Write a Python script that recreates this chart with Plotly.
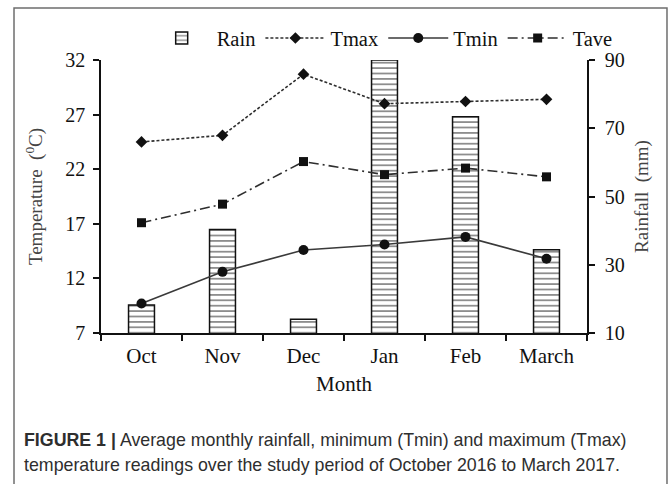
import plotly.graph_objects as go

# Monthly climate readings, October 2016 - March 2017
months = ["Oct", "Nov", "Dec", "Jan", "Feb", "March"]
rain_mm = [18.2, 40.3, 14.0, 90.0, 73.4, 34.4]
tmax_c = [24.5, 25.1, 30.7, 28.0, 28.2, 28.4]
tmin_c = [9.7, 12.6, 14.6, 15.1, 15.8, 13.8]
tave_c = [17.1, 18.8, 22.7, 21.5, 22.1, 21.3]

temp_ticks = [7, 12, 17, 22, 27, 32]
rain_ticks = [10, 30, 50, 70, 90]

SERIF = "Liberation Serif, Times New Roman, serif"
SANS = "Liberation Sans, Arial, sans-serif"
INK = "#111111"
LINE = "#2e2e2e"

fig = go.Figure()

# Rainfall bars on the base axis so the temperature lines sit on top
fig.add_trace(go.Bar(
    x=months, y=rain_mm, name="Rain", yaxis="y",
    marker=dict(color="white",
                line=dict(color=INK, width=1.5),
                pattern=dict(shape="-", fgcolor=INK, bgcolor="white",
                             size=5.4, solidity=0.32)),
))

fig.add_trace(go.Scatter(
    x=months, y=tmax_c, name="Tmax", yaxis="y2", mode="lines+markers",
    line=dict(color=LINE, width=1.6, dash="3px,2px"),
    marker=dict(symbol="diamond", size=9, color=INK),
))
fig.add_trace(go.Scatter(
    x=months, y=tmin_c, name="Tmin", yaxis="y2", mode="lines+markers",
    line=dict(color="#3a3a3a", width=1.6),
    marker=dict(symbol="circle", size=10, color=INK),
))
fig.add_trace(go.Scatter(
    x=months, y=tave_c, name="Tave", yaxis="y2", mode="lines+markers",
    line=dict(color=LINE, width=1.6, dash="10px,4px,2px,4px"),
    marker=dict(symbol="square", size=9, color=INK),
))

axis_common = dict(
    showline=True, linecolor=INK, linewidth=1.5, showgrid=False,
    zeroline=False, ticks="outside", ticklen=6, tickcolor=INK, tickwidth=1.5,
)

fig.update_layout(
    width=669, height=484,
    margin=dict(l=101, r=82, t=60, b=151),
    paper_bgcolor="white", plot_bgcolor="white",
    bargap=0.68,
    showlegend=True,
    legend=dict(orientation="h", x=0.094, y=1.08, xanchor="left",
                yanchor="middle", font=dict(family=SERIF, size=20.5, color=INK),
                itemwidth=60, tracegroupgap=0, bgcolor="rgba(0,0,0,0)"),
    xaxis=dict(
        **axis_common,
        type="category", range=[-0.5, 5.5], tickson="boundaries",
        tickfont=dict(family=SERIF, size=21, color=INK),
        ticklabelstandoff=3,
        title=dict(text="Month", font=dict(family=SERIF, size=21, color=INK),
                   standoff=9),
    ),
    yaxis=dict(
        **axis_common,
        side="right", range=[10, 90], tickvals=rain_ticks,
        tickfont=dict(family=SERIF, size=20, color=INK),
        ticklabelstandoff=6,
        title=dict(text="Rainfall  (mm)",
                   font=dict(family=SERIF, size=19, color="#444444"),
                   standoff=11),
    ),
    yaxis2=dict(
        **axis_common,
        side="left", overlaying="y", range=[7, 32], tickvals=temp_ticks,
        tickfont=dict(family=SERIF, size=20, color=INK),
        ticklabelstandoff=4,
        title=dict(text="Temperature  (<sup>0</sup>C)",
                   font=dict(family=SERIF, size=19, color="#444444"),
                   standoff=18),
    ),
)

# Caption below the chart
CAPTION_FONT = dict(family=SANS, size=17.8, color="#2e2e2e")
fig.add_annotation(
    xref="paper", yref="paper", x=-0.163, y=-0.392, xanchor="left",
    yanchor="middle", showarrow=False,
    text="<b>FIGURE 1 |</b> Average monthly rainfall, minimum (Tmin) and maximum (Tmax)",
    font=CAPTION_FONT,
)
fig.add_annotation(
    xref="paper", yref="paper", x=-0.163, y=-0.483, xanchor="left",
    yanchor="middle", showarrow=False,
    text="temperature readings over the study period of October 2016 to March 2017.",
    font=CAPTION_FONT,
)

# Thin frame around the whole figure
fig.add_shape(type="rect", xref="paper", yref="paper",
              x0=-0.179, x1=1.1646, y0=-0.62, y1=1.1905,
              line=dict(color="#6e6e6e", width=1.5), fillcolor="rgba(0,0,0,0)",
              layer="below")

fig.write_html("out.html")
